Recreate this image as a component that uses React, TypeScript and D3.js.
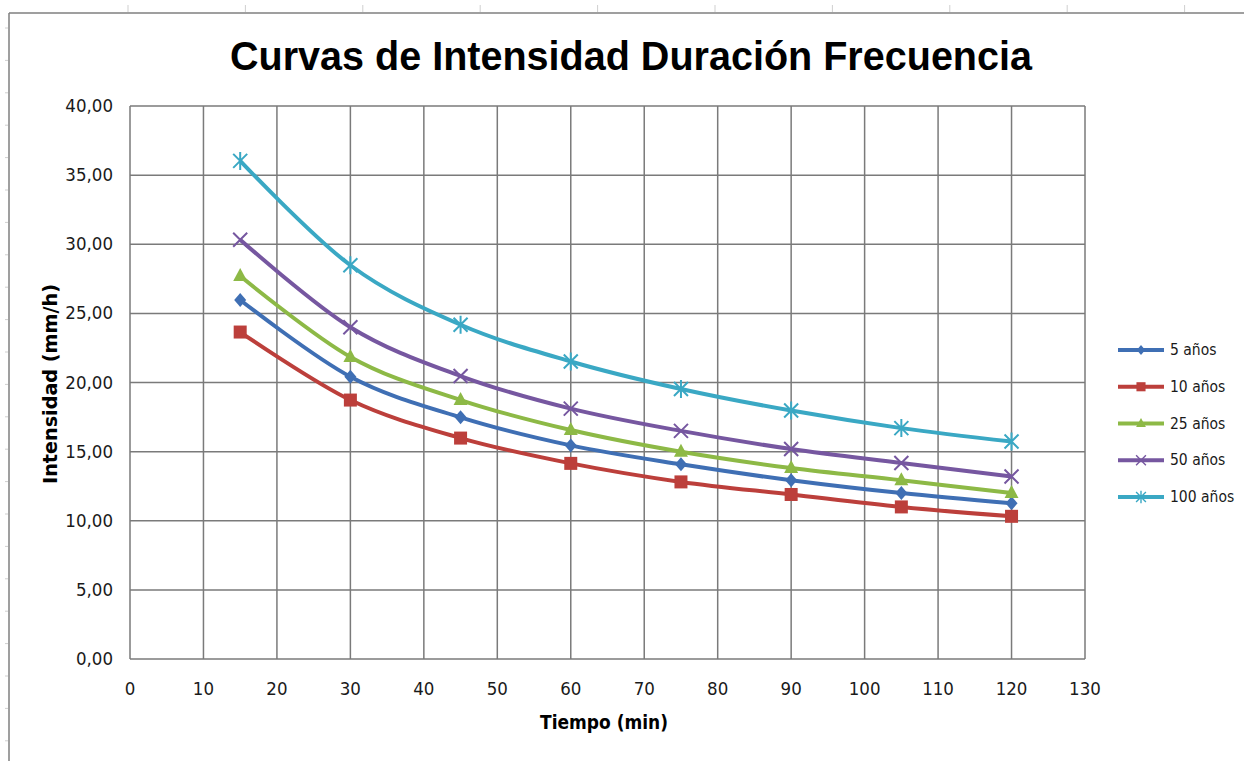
import React from 'react';
import * as d3 from 'd3';

// duración (min) y intensidades (mm/h) por periodo de retorno
const durations = [15, 30, 45, 60, 75, 90, 105, 120];
const i5 = [25.97, 20.42, 17.48, 15.45, 14.08, 12.93, 12.0, 11.26];
const i10 = [23.65, 18.73, 15.98, 14.15, 12.81, 11.9, 11.0, 10.32];
const i25 = [27.7, 21.85, 18.73, 16.56, 14.99, 13.81, 12.93, 12.0];
const i50 = [30.33, 24.0, 20.47, 18.11, 16.5, 15.19, 14.18, 13.2];
const i100 = [36.03, 28.48, 24.18, 21.52, 19.53, 17.97, 16.7, 15.73];

const seriesNames = ['5 años', '10 años', '25 años', '50 años', '100 años'];
const seriesValues = [i5, i10, i25, i50, i100];
const colors = ['#3f6fb4', '#bc3f3b', '#8db946', '#7657a0', '#3aa8c4'];
const markers = ['diamond', 'square', 'triangle', 'x', 'star'];

const xTicks = d3.range(0, 131, 10);
const yTicks = d3.range(0, 40.01, 5);

const W = 1244, H = 761;
const plot = {left: 130, right: 1085, top: 106, bottom: 659};
const narrow = "'Liberation Sans Narrow', 'DejaVu Sans Condensed', 'Arial Narrow', sans-serif";
const grid = '#7a7a7a';

function Marker({kind, x, y, color, s = 1}) {
  const t = `translate(${x},${y}) scale(${s})`;
  if (kind === 'diamond') {
    return <path transform={t} d="M0,-7L6,0L0,7L-6,0Z" fill={color} />;
  }
  if (kind === 'square') {
    return <rect transform={t} x={-6.5} y={-6.5} width={13} height={13} fill={color} />;
  }
  if (kind === 'triangle') {
    return <path transform={t} d="M0,-8L7,5L-7,5Z" fill={color} />;
  }
  if (kind === 'x') {
    return <path transform={t} d="M-7,-7L7,7M7,-7L-7,7" stroke={color} strokeWidth={2} fill="none" />;
  }
  return <path transform={t} d="M-7,-7L7,7M7,-7L-7,7M0,-9L0,9" stroke={color} strokeWidth={2} fill="none" />;
}

export default function App() {
  const x = d3.scaleLinear().domain([0, 130]).range([plot.left, plot.right]);
  const y = d3.scaleLinear().domain([0, 40]).range([plot.bottom, plot.top]);
  const line = d3.line<number>()
    .x((d, i) => x(durations[i]))
    .y(d => y(d))
    .curve(d3.curveCatmullRom.alpha(0));

  const legendY = d3.scalePoint().domain(seriesNames).range([350, 497]);

  // sheet cell marks outside the chart frame
  const colMarks = d3.range(128, W, 117.4);
  const rowMarks = d3.range(28, H, 32.4);

  return (
    <svg width={W} height={H} style={{position: 'absolute', left: 0, top: 0, background: '#fff'}}>
      <rect x={0} y={0} width={W} height={H} fill="#fff" />
      {colMarks.map((c, i) => (
        <line key={'c' + i} x1={c} x2={c} y1={5} y2={12} stroke="#cfcfcf" strokeWidth={1} />
      ))}
      {rowMarks.map((r, i) => (
        <line key={'r' + i} x1={5} x2={8} y1={r} y2={r} stroke="#cfcfcf" strokeWidth={1} />
      ))}
      <line x1={9} x2={W} y1={13} y2={13} stroke="#7f7f7f" strokeWidth={1.5} />
      <line x1={9} x2={9} y1={13} y2={H} stroke="#7f7f7f" strokeWidth={1.5} />

      <text x={631} y={70} textAnchor="middle" fontFamily="'Liberation Sans', Arial, sans-serif"
            fontWeight="bold" fontSize={40} textLength={802} lengthAdjust="spacingAndGlyphs">
        Curvas de Intensidad Duración Frecuencia
      </text>

      {yTicks.map(t => (
        <line key={'gy' + t} x1={plot.left} x2={plot.right} y1={y(t)} y2={y(t)} stroke={grid} strokeWidth={1.5} />
      ))}
      {xTicks.map(t => (
        <line key={'gx' + t} x1={x(t)} x2={x(t)} y1={plot.top} y2={plot.bottom} stroke={grid} strokeWidth={1.5} />
      ))}

      {yTicks.map(t => (
        <text key={'ty' + t} x={113} y={y(t) + 6} textAnchor="end" fontFamily={narrow} fontSize={18.5} fill="#1a1a1a">
          {d3.format('.2f')(t).replace('.', ',')}
        </text>
      ))}
      {xTicks.map(t => (
        <text key={'tx' + t} x={x(t)} y={695} textAnchor="middle" fontFamily={narrow} fontSize={18.5} fill="#1a1a1a">
          {t}
        </text>
      ))}

      <text x={604} y={729} textAnchor="middle" fontFamily={narrow} fontWeight="bold" fontSize={20}
            textLength={128} lengthAdjust="spacingAndGlyphs">
        Tiempo (min)
      </text>
      <text transform="translate(57,384) rotate(-90)" textAnchor="middle" fontFamily={narrow} fontWeight="bold"
            fontSize={20} textLength={200} lengthAdjust="spacingAndGlyphs">
        Intensidad (mm/h)
      </text>

      {seriesValues.map((vals, si) => (
        <g key={'s' + si}>
          <path d={line(vals) || ''} fill="none" stroke={colors[si]} strokeWidth={4} strokeLinejoin="round" />
          {vals.map((v, i) => (
            <Marker key={i} kind={markers[si]} x={x(durations[i])} y={y(v)} color={colors[si]} />
          ))}
        </g>
      ))}

      {seriesNames.map((name, si) => {
        const ly = legendY(name) || 0;
        return (
          <g key={'l' + si}>
            <line x1={1118} x2={1164} y1={ly} y2={ly} stroke={colors[si]} strokeWidth={4} />
            <Marker kind={markers[si]} x={1141} y={ly} color={colors[si]} s={0.7} />
            <text x={1170} y={ly + 5} fontFamily={narrow} fontSize={15.5} fill="#1a1a1a">{name}</text>
          </g>
        );
      })}
    </svg>
  );
}
